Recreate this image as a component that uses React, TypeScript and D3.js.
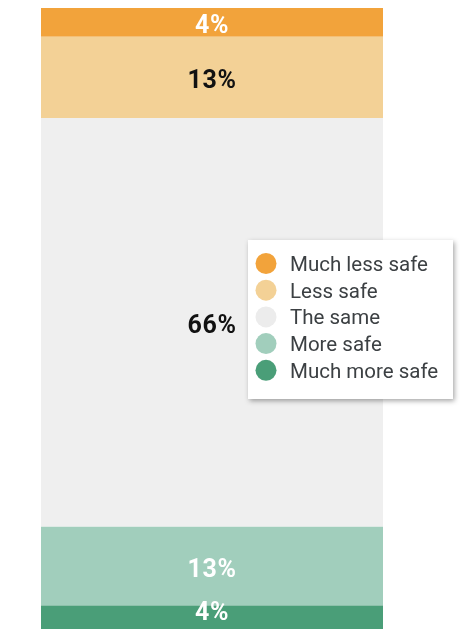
import React from "react";
import * as d3 from "d3";

// ---- data ----
const categories = ["Much less safe", "Less safe", "The same", "More safe", "Much more safe"];
const values = [4.6, 13.0, 65.4, 12.6, 4.4];
const valueLabels = ["4%", "13%", "66%", "13%", "4%"];

// ---- styles ----
const fills = ["#F2A33B", "#F3D196", "#EFEFEF", "#A1CEBC", "#4A9E78"];
const labelFills = ["#ffffff", "#111111", "#111111", "#ffffff", "#ffffff"];
const legendFills = ["#F2A33B", "#F3D196", "#ECECEC", "#A1CEBC", "#4A9E78"];

const W = 460;
const H = 629;

export default function App() {
  const y = d3.scaleLinear().domain([0, 100]).range([8, 633]);
  const x = d3.scaleLinear().domain([0, 1]).range([41, 383]);
  const stacked = values.reduce<{ start: number; end: number }[]>((acc, v) => {
    const s = acc.length ? acc[acc.length - 1].end : 0;
    acc.push({ start: s, end: s + v });
    return acc;
  }, []);

  const legendY = d3.scaleLinear().domain([0, 1]).range([263.5, 290.2]);

  return (
    <div style={{ position: "fixed", left: 0, top: 0, width: W, height: H }}>
      <svg width={W} height={H} style={{ display: "block" }}>
        <defs>
          <filter id="sh" x="-20%" y="-20%" width="140%" height="140%">
            <feDropShadow dx="1.5" dy="2" stdDeviation="2.5" floodColor="#000" floodOpacity="0.35" />
          </filter>
        </defs>
        {stacked.map((s, i) => (
          <rect
            key={categories[i]}
            x={x(0)}
            width={x(1) - x(0)}
            y={y(s.start)}
            height={y(s.end) - y(s.start)}
            fill={fills[i]}
          />
        ))}
        {stacked.map((s, i) => {
          const c = (y(s.start) + y(s.end)) / 2;
          const base = Math.min(c + 11, H - 9);
          return (
            <text
              key={"l" + i}
              x={(x(0) + x(1)) / 2}
              y={base}
              textAnchor="middle"
              fontFamily="Roboto, sans-serif"
              fontWeight={700}
              fontSize={25}
              letterSpacing={0.6}
              fill={labelFills[i]}
            >
              {valueLabels[i]}
            </text>
          );
        })}
        <g>
          <rect x={248} y={240} width={205} height={159} fill="#fff" filter="url(#sh)" />
          {categories.map((c, i) => (
            <g key={"g" + c}>
              <circle cx={266} cy={legendY(i)} r={10.5} fill={legendFills[i]} />
              <text
                x={290}
                y={legendY(i) + 7.5}
                fontFamily="Roboto, sans-serif"
                fontSize={20.5}
                fill="#3C4043"
              >
                {c}
              </text>
            </g>
          ))}
        </g>
      </svg>
    </div>
  );
}
